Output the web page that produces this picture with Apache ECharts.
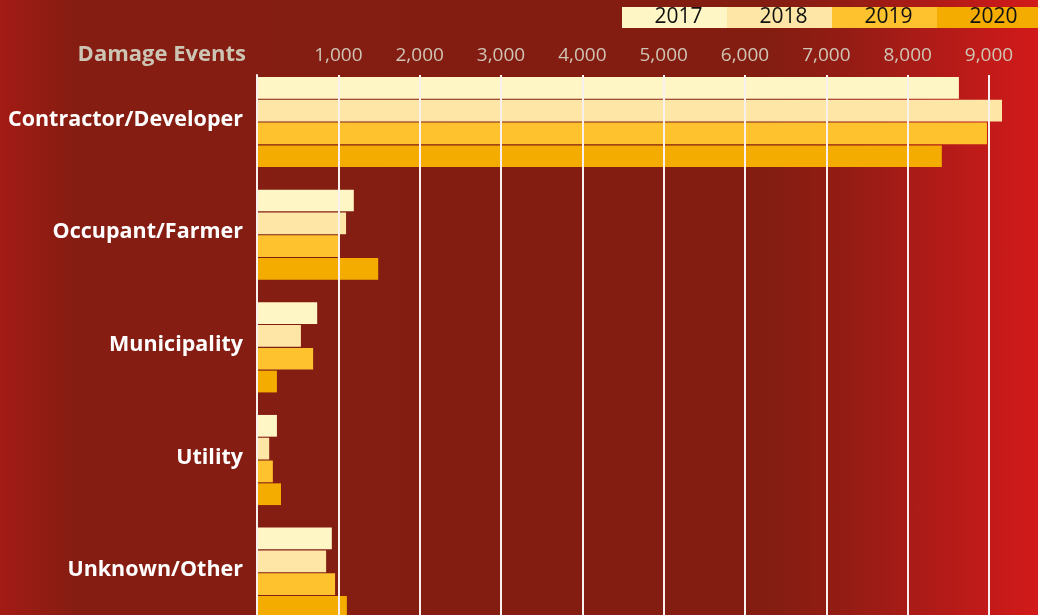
<!DOCTYPE html>
<html>
<head>
<meta charset="utf-8">
<script src="https://cdn.jsdelivr.net/npm/echarts@6/dist/echarts.min.js"></script>
<style>
  html, body { margin: 0; padding: 0; overflow: hidden; }
  #chart {
    width: 1038px; height: 629px;
    background: linear-gradient(to right, #a31b15 0%, #861d12 7%, #831d12 45%, #831d12 74%, #951c14 82%, #b01b18 90%, #d21a1a 100%);
  }
</style>
</head>
<body>
<div id="chart"></div>
<script>
const categories = ['Contractor/Developer', 'Occupant/Farmer', 'Municipality', 'Utility', 'Unknown/Other'];
const years = ['2017', '2018', '2019', '2020'];
const values2017 = [8630, 1190, 740, 245, 920];
const values2018 = [9160, 1095, 540, 150, 850];
const values2019 = [8975, 1020, 690, 195, 960];
const values2020 = [8420, 1490, 245, 295, 1105];
const seriesValues = [values2017, values2018, values2019, values2020];
const xTicks = { min: 0, max: 9000, interval: 1000 };
const axisTitle = 'Damage Events';

const colors = ['#fff6c6', '#fee6a7', '#fdc22e', '#f4ac00'];
const FONT = 'Open Sans';

const rich = {};
years.forEach((y, i) => {
  rich['y' + y] = {
    backgroundColor: colors[i], width: 97, height: 21, lineHeight: 21,
    padding: [0, 0, 0, 8],
    align: 'center', color: '#111', fontSize: 21, fontFamily: FONT
  };
});

const chart = echarts.init(document.getElementById('chart'));
chart.setOption({
  backgroundColor: 'transparent',
  animation: false,
  title: {
    text: axisTitle, right: 792, top: 44, padding: 0,
    textStyle: { color: '#cdc5b3', fontSize: 22, fontWeight: 'bold', fontFamily: FONT }
  },
  legend: {
    data: years, right: -4, top: 7, padding: 0,
    itemWidth: 0, itemHeight: 0, itemGap: -5, icon: 'rect',
    selectedMode: false,
    formatter: n => '{y' + n + '|' + n + '}',
    textStyle: { rich: rich, padding: 0 }
  },
  grid: [
    { left: 257, right: 49, top: 65.7, bottom: 0 },
    { left: 257, right: 49, top: 75, bottom: 0 }
  ],
  xAxis: [
    { gridIndex: 0, type: 'value', min: xTicks.min, max: xTicks.max, interval: xTicks.interval, show: false },
    { gridIndex: 1, type: 'value', position: 'top', min: xTicks.min, max: xTicks.max, interval: xTicks.interval, z: 5,
      axisLine: { show: false }, axisTick: { show: false },
      axisLabel: { showMinLabel: false, color: '#cfc5b5', fontSize: 19, fontFamily: FONT, margin: 10,
        formatter: v => v.toLocaleString('en-US') },
      splitLine: { show: true, lineStyle: { color: '#f7f0ee', width: 2 } } }
  ],
  yAxis: [
    { gridIndex: 0, type: 'category', data: categories, inverse: true,
      axisLine: { show: false }, axisTick: { show: false },
      axisLabel: { margin: 14, formatter: v => '{c|' + v + '}',
        rich: { c: { color: '#ffffff', fontSize: 21.5, fontWeight: 'bold', fontFamily: FONT, padding: [0, 0, 5, 0] } } } },
    { gridIndex: 1, type: 'category', data: categories, inverse: true, z: 5,
      axisLine: { show: true, lineStyle: { color: '#f7f0ee', width: 2 } },
      axisTick: { show: false }, axisLabel: { show: false }, splitLine: { show: false } }
  ],
  series: years.map((y, i) => ({
    name: y, type: 'bar', xAxisIndex: 0, yAxisIndex: 0,
    data: seriesValues[i], clip: false,
    barCategoryGap: '20%', barGap: '5%',
    itemStyle: { color: colors[i] }
  }))
});
</script>
</body>
</html>
